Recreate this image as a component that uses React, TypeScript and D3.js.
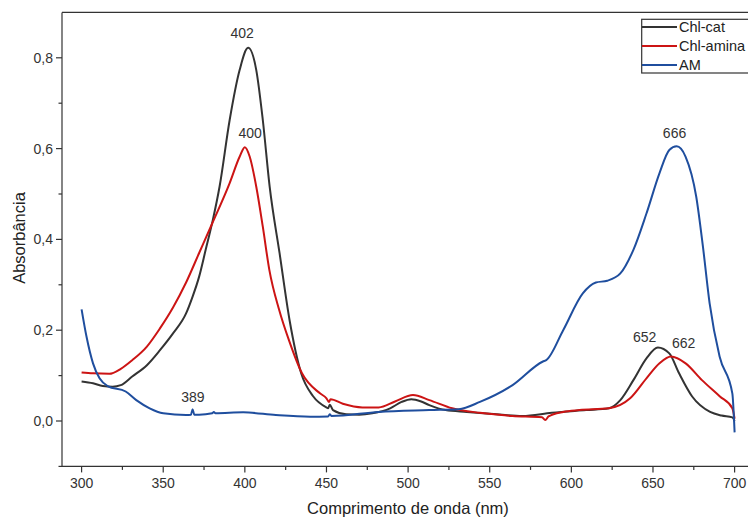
import React from "react";
import * as d3 from "d3";

const catX = [300,307,313,319,324,331,340,348,356,364,368,372,376,380.4,384.5,390.7,396.8,402,407,411,415.2,421.3,427.4,434.5,441.7,449.9,451,452,454,462,470,478,489,496,502,508,513,523,536,550,570,588,609,623,630,638,646,653,660,666,674,685,692,698.6,700];
const catY = [0.087,0.083,0.077,0.0756,0.079,0.098,0.123,0.156,0.193,0.237,0.274,0.318,0.377,0.443,0.516,0.663,0.773,0.822,0.773,0.663,0.516,0.369,0.222,0.105,0.055,0.03,0.028,0.036,0.024,0.015,0.014,0.017,0.028,0.042,0.048,0.043,0.035,0.024,0.02,0.016,0.011,0.018,0.024,0.028,0.046,0.09,0.138,0.162,0.149,0.105,0.054,0.02,0.012,0.008,0.0];

const aminaX = [300,307,317,324,331,340,348,356,364,372,380,390.7,396.8,400,403,407,411,415,421,427,435,446,450,451.5,452.5,460,472,482,492,503,513,527,544,564,582,584,586,595,605,623,636,646,654,661,670,680,691,698.6,700];
const aminaY = [0.107,0.105,0.104,0.115,0.134,0.164,0.204,0.25,0.305,0.37,0.435,0.524,0.582,0.603,0.582,0.516,0.428,0.333,0.245,0.178,0.105,0.061,0.05,0.042,0.048,0.038,0.03,0.03,0.043,0.057,0.046,0.028,0.018,0.011,0.008,0.002,0.01,0.02,0.024,0.028,0.05,0.094,0.127,0.142,0.127,0.09,0.054,0.028,0.005];

const amX = [300,303,307,311,316,327,333.5,341.7,350,364,367,368,369,372,380,381,382,399,419,440,451,452,453,482,513,531,544,564,582.6,584.6,595,607,615,622,630,638,646,654,660,664.5,670,676.5,680.6,684.7,690.8,698.6,700];
const amY = [0.246,0.186,0.127,0.094,0.077,0.065,0.046,0.028,0.017,0.013,0.014,0.026,0.014,0.014,0.017,0.02,0.017,0.019,0.013,0.0095,0.01,0.015,0.011,0.02,0.024,0.026,0.042,0.079,0.131,0.134,0.2,0.281,0.305,0.309,0.325,0.377,0.457,0.546,0.597,0.605,0.582,0.494,0.384,0.259,0.142,0.061,-0.025];

const seriesNames = ["Chl-cat", "Chl-amina", "AM"];
const seriesColors = ["#333333", "#cc1414", "#1f4e9e"];

const xTicks = [300,350,400,450,500,550,600,650,700];
const xMinor = [325,375,425,475,525,575,625,675];
const yTicks = [0,0.2,0.4,0.6,0.8];
const yMinor = [-0.1,0.1,0.3,0.5,0.7];

const peakLabels = ["402","400","389","666","652","662"];
const peakLabelX = [398.4,403.3,368.2,663.2,644.9,668.8];
const peakLabelY = [0.855,0.634,0.0535,0.635,0.184,0.171];

export default function App() {
  const W = 748, H = 517;
  const x = d3.scaleLinear().domain([288, 712]).range([62, 754.2]);
  const y = d3.scaleLinear().domain([-0.1, 0.9]).range([466.4, 12.4]);
  const series = [
    catX.map((v, i) => [v, catY[i]] as [number, number]),
    aminaX.map((v, i) => [v, aminaY[i]] as [number, number]),
    amX.map((v, i) => [v, amY[i]] as [number, number]),
  ];
  const line = d3.line<[number, number]>().x(d => x(d[0])).y(d => y(d[1])).curve(d3.curveMonotoneX);
  const fmt = (v: number) => v.toFixed(1).replace(".", ",");
  const font = "'Liberation Sans', Arial, sans-serif";
  const axisColor = "#333";
  const x0 = x(288), yb = y(-0.1), yt = y(0.9);
  return (
    <svg width={W} height={H} style={{ position: "absolute", left: 0, top: 0, background: "#fff" }} fontFamily={font}>
      <rect x={0} y={0} width={W} height={H} fill="#fff" />
      {series.map((s, i) => (
        <path key={i} d={line(s) || ""} fill="none" stroke={seriesColors[i]} strokeWidth={2} strokeLinejoin="round" />
      ))}
      <line x1={x0} x2={x0} y1={yt} y2={yb} stroke={axisColor} strokeWidth={1.2} />
      <line x1={x0} x2={W} y1={yb} y2={yb} stroke={axisColor} strokeWidth={1.2} />
      <line x1={x0} x2={W} y1={yt} y2={yt} stroke={axisColor} strokeWidth={1.2} />
      {yTicks.map(t => (
        <g key={"y" + t}>
          <line x1={x0 - 6} x2={x0} y1={y(t)} y2={y(t)} stroke={axisColor} strokeWidth={1.2} />
          <text x={x0 - 9} y={y(t)} textAnchor="end" dominantBaseline="central" fontSize={14} fill="#333">{fmt(t)}</text>
        </g>
      ))}
      {yMinor.map(t => (
        <line key={"ym" + t} x1={x0 - 3.5} x2={x0} y1={y(t)} y2={y(t)} stroke={axisColor} strokeWidth={1.2} />
      ))}
      {xTicks.map(t => (
        <g key={"x" + t}>
          <line x1={x(t)} x2={x(t)} y1={yb} y2={yb + 6} stroke={axisColor} strokeWidth={1.2} />
          <text x={x(t)} y={yb + 17} textAnchor="middle" dominantBaseline="central" fontSize={14} fill="#333">{t}</text>
        </g>
      ))}
      {xMinor.map(t => (
        <line key={"xm" + t} x1={x(t)} x2={x(t)} y1={yb} y2={yb + 3.5} stroke={axisColor} strokeWidth={1.2} />
      ))}
      <text x={408} y={508} textAnchor="middle" dominantBaseline="central" fontSize={16.5} fill="#222">Comprimento de onda (nm)</text>
      <text transform={`translate(19,238) rotate(-90)`} textAnchor="middle" dominantBaseline="central" fontSize={16.5} fill="#222">Absorbância</text>
      {peakLabels.map((l, i) => (
        <text key={"p" + i} x={x(peakLabelX[i])} y={y(peakLabelY[i])} textAnchor="middle" dominantBaseline="central" fontSize={14} fill="#333">{l}</text>
      ))}
      <rect x={641.7} y={19.3} width={120} height={53.7} fill="#fff" stroke={axisColor} strokeWidth={1.2} />
      {seriesNames.map((n, i) => (
        <g key={"l" + i}>
          <line x1={642} x2={677} y1={27 + i * 19} y2={27 + i * 19} stroke={seriesColors[i]} strokeWidth={2} />
          <text x={679} y={27 + i * 19} dominantBaseline="central" fontSize={14.5} fill="#222">{n}</text>
        </g>
      ))}
    </svg>
  );
}
